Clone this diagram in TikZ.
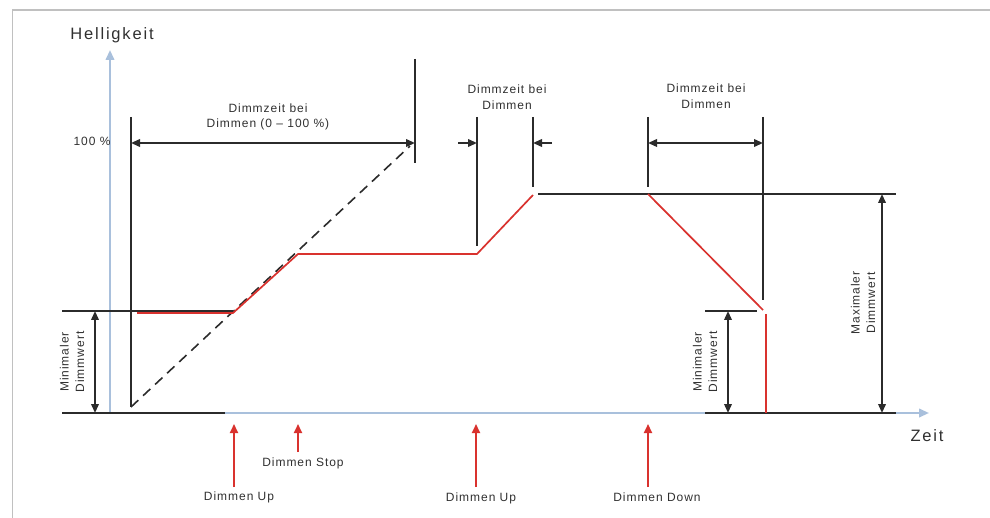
\documentclass[tikz,border=0pt]{standalone}
\usepackage{fontspec}
\setmainfont{Liberation Sans}
\newfontfamily\lblfont{Liberation Sans}[LetterSpace=8]
\newfontfamily\axfont{Liberation Sans}[LetterSpace=11]
\usetikzlibrary{arrows.meta}
\definecolor{ink}{HTML}{2B2B2B}
\definecolor{txt}{HTML}{303030}
\definecolor{sig}{HTML}{D9322E}
\definecolor{axisblue}{HTML}{A9C0DC}
\definecolor{framegray}{HTML}{C0C0C0}
\begin{document}
\begin{tikzpicture}[x=1pt,y=-1pt,
  tip/.tip={Triangle[length=9pt,width=7.5pt]},
  redtip/.tip={Triangle[length=9pt,width=8pt]},
  bluetip/.tip={Triangle[length=10pt,width=8.5pt]},
  guide/.style={draw=ink,line width=1.6pt},
  dimline/.style={draw=ink,line width=2pt,tip-tip},
  halfdim/.style={draw=ink,line width=2pt,-tip},
  signal/.style={draw=sig,line width=1.7pt,line join=miter},
  trigger/.style={draw=sig,line width=2pt,-redtip},
  axisline/.style={draw=axisblue,line width=2.2pt,-bluetip},
  label/.style={text=txt,inner sep=0pt,align=center,
    font=\lblfont\fontsize{12}{15.5}\selectfont},
  axislabel/.style={text=txt,inner sep=0pt,
    font=\axfont\fontsize{16.5}{20}\selectfont}]
\useasboundingbox (0,0) rectangle (990,518);

% outer frame
\draw[framegray,line width=1.8pt] (12.5,518) -- (12.5,10) -- (990,10);

% axes
\coordinate (o) at (110,413);
\coordinate (ytop) at (110,50);
\coordinate (xend) at (929,413);
\draw[axisline] (o) -- (ytop);
\draw[axisline] (o) -- (xend);
\node[axislabel] (hell) at (112,35) {Helligkeit};
\node[axislabel] (zeit) at (927,436) {Zeit};
\node[label] (hundert) at (92,141) {100 \%};

% base and level lines
\coordinate (b0) at (62,413);   \coordinate (b1) at (225,413);
\coordinate (b2) at (705,413);  \coordinate (b3) at (896,413);
\draw[guide] (b0) -- (b1);
\draw[guide] (b2) -- (b3);
\coordinate (m0) at (62,311);   \coordinate (m1) at (233,311);
\draw[guide] (m0) -- (m1);
\coordinate (n0) at (705,311);  \coordinate (n1) at (757,311);
\draw[guide] (n0) -- (n1);
\coordinate (t0) at (538,194);  \coordinate (t1) at (896,194);
\draw[guide] (t0) -- (t1);

% full-range dimming ramp
\coordinate (v1top) at (131,117); \coordinate (v1bot) at (131,407);
\coordinate (rampend) at (410,146);
\draw[guide] (v1top) -- (v1bot);
\draw[guide,dash pattern=on 10pt off 6.5pt] (v1bot) -- (rampend);
\coordinate (v2top) at (415,59); \coordinate (v2bot) at (415,163);
\draw[guide] (v2top) -- (v2bot);
\coordinate (d1a) at (131,143); \coordinate (d1b) at (415,143);
\draw[dimline] (d1a) -- (d1b);
\node[label] (lab1) at (268,117) {Dimmzeit bei\\Dimmen (0 – 100 \%)};

% second dimming interval
\coordinate (v3top) at (477,117); \coordinate (v3bot) at (477,246);
\coordinate (v4top) at (533,117); \coordinate (v4bot) at (533,187);
\draw[guide] (v3top) -- (v3bot);
\draw[guide] (v4top) -- (v4bot);
\coordinate (a3) at (458,143); \coordinate (a3t) at (477,143);
\coordinate (a4) at (552,143); \coordinate (a4t) at (533,143);
\draw[halfdim] (a3) -- (a3t);
\draw[halfdim] (a4) -- (a4t);
\node[label] (lab2) at (507,97) {Dimmzeit bei\\Dimmen};

% third dimming interval
\coordinate (v5top) at (648,117); \coordinate (v5bot) at (648,187);
\coordinate (v6top) at (763,117); \coordinate (v6bot) at (763,300);
\draw[guide] (v5top) -- (v5bot);
\draw[guide] (v6top) -- (v6bot);
\coordinate (d3a) at (648,143); \coordinate (d3b) at (763,143);
\draw[dimline] (d3a) -- (d3b);
\node[label] (lab3) at (706,96) {Dimmzeit bei\\Dimmen};

% brightness curve
\coordinate (s0) at (137,313); \coordinate (s1) at (233,313);
\coordinate (s2) at (298,254); \coordinate (s3) at (477,254);
\coordinate (s4) at (533,195);
\draw[signal] (s0) -- (s1) -- (s2) -- (s3) -- (s4);
\coordinate (s5) at (648,194); \coordinate (s6) at (763,310);
\draw[signal] (s5) -- (s6);
\coordinate (s7) at (766,314); \coordinate (s8) at (766,413);
\draw[signal] (s7) -- (s8);

% level dimensions
\coordinate (l1a) at (95,311); \coordinate (l1b) at (95,413);
\draw[dimline] (l1a) -- (l1b);
\node[label,rotate=90] (minl) at (72,362) {Minimaler\\Dimmwert};
\coordinate (l2a) at (728,311); \coordinate (l2b) at (728,413);
\draw[dimline] (l2a) -- (l2b);
\node[label,rotate=90] (minr) at (705,362) {Minimaler\\Dimmwert};
\coordinate (l3a) at (882,194); \coordinate (l3b) at (882,413);
\draw[dimline] (l3a) -- (l3b);
\node[label,rotate=90] (maxl) at (863,303) {Maximaler\\Dimmwert};

% push-button events
\coordinate (e1) at (234,487); \coordinate (e1t) at (234,424);
\coordinate (e2) at (298,452); \coordinate (e2t) at (298,424);
\coordinate (e3) at (476,487); \coordinate (e3t) at (476,424);
\coordinate (e4) at (648,487); \coordinate (e4t) at (648,424);
\draw[trigger] (e1) -- (e1t);
\draw[trigger] (e2) -- (e2t);
\draw[trigger] (e3) -- (e3t);
\draw[trigger] (e4) -- (e4t);
\node[label] (up1) at (239,497) {Dimmen Up};
\node[label] (stop) at (303,463) {Dimmen Stop};
\node[label] (up2) at (481,498) {Dimmen Up};
\node[label] (down) at (657,497) {Dimmen Down};
\end{tikzpicture}
\end{document}
